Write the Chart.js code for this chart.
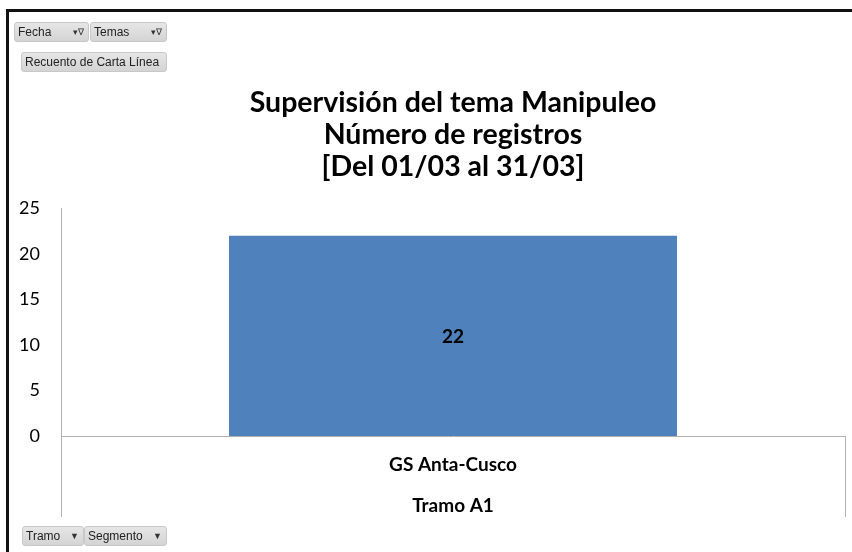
<!DOCTYPE html>
<html>
<head>
<meta charset="utf-8">
<script src="https://cdn.jsdelivr.net/npm/chart.js@4.4.1/dist/chart.umd.min.js"></script>
<style>
  body { margin: 0; background: #fff; }
  #wrap { position: relative; width: 852px; height: 552px; overflow: hidden; }
  #frame { position: absolute; left: 6px; top: 9px; width: 900px; height: 600px;
    border-left: 3px solid #111; border-top: 3px solid #111; }
  canvas { position: absolute; left: 0; top: 0; }
  .btn { position: absolute; height: 20px; line-height: 19px; box-sizing: border-box;
    border: 1px solid #c8c8c8; border-radius: 3px; background: linear-gradient(#e6e6e6, #d4d4d4);
    font-family: 'Liberation Sans', sans-serif; font-size: 12px; color: #222; padding-left: 3px; }
  .btn .ico { position: absolute; right: 4px; top: 0; font-size: 9px; color: #333; }
</style>
</head>
<body>
<div id="wrap">
  <canvas id="chart" width="852" height="552"></canvas>
  <div id="frame"></div>
  <div class="btn" style="left:14px;top:22px;width:75px;">Fecha<span class="ico">&#9662;&#8711;</span></div>
  <div class="btn" style="left:90px;top:22px;width:77px;">Temas<span class="ico">&#9662;&#8711;</span></div>
  <div class="btn" style="left:21px;top:52px;width:146px;">Recuento de Carta Línea</div>
  <div class="btn" style="left:22px;top:526px;width:62px;">Tramo<span class="ico">&#9660;</span></div>
  <div class="btn" style="left:84px;top:526px;width:83px;">Segmento<span class="ico">&#9660;</span></div>
</div>
<script>
'use strict';

let categories = [['GS Anta-Cusco', 'Tramo A1']];
let recordCounts = [22];
let yTicks = [0, 5, 10, 15, 20, 25];
let titleLines = ['Supervisión del tema Manipuleo', 'Número de registros', '[Del 01/03 al 31/03]'];

// value label in the middle of each bar
let barLabels = {
  id: 'barLabels',
  afterDatasetsDraw(chart) {
    let ctx = chart.ctx;
    let meta = chart.getDatasetMeta(0);
    ctx.save();
    ctx.font = 'bold 19px Lato, sans-serif';
    ctx.fillStyle = '#000';
    ctx.textAlign = 'center';
    ctx.textBaseline = 'middle';
    meta.data.forEach(function (bar, i) {
      ctx.fillText(recordCounts[i], bar.x, (bar.y + bar.base) / 2 + 1);
    });
    ctx.restore();
  }
};

let ctx = document.getElementById('chart').getContext('2d');
let chart = new Chart(ctx, {
  type: 'bar',
  data: {
    labels: categories,
    datasets: [{
      data: recordCounts,
      backgroundColor: '#4F81BD',
      borderWidth: 0,
      barPercentage: 1,
      categoryPercentage: 0.5714
    }]
  },
  options: {
    responsive: false,
    animation: false,
    layout: { padding: { left: 0, right: 7, top: 0, bottom: 0 } },
    plugins: {
      legend: { display: false },
      tooltip: { enabled: false },
      title: {
        display: true,
        fullSize: false,
        text: titleLines,
        color: '#000',
        font: { family: 'Lato, sans-serif', size: 28.5, weight: 'bold', lineHeight: 32 / 28.5 },
        padding: { top: 87, bottom: 25.5 }
      }
    },
    scales: {
      x: {
        offset: true,
        grid: { offset: true, drawOnChartArea: false, drawTicks: true, tickLength: 81, color: '#b0b0b0' },
        border: { color: '#b0b0b0' },
        ticks: {
          color: '#000',
          padding: -72.5,
          font: { family: 'Lato, sans-serif', size: 19, weight: 'bold', lineHeight: 41 / 19 }
        },
        afterFit(scale) { scale.height = 116; }
      },
      y: {
        min: 0,
        max: 25,
        afterBuildTicks(scale) { scale.ticks = yTicks.map(function (v) { return { value: v }; }); },
        grid: { display: false, drawTicks: false },
        border: { color: '#b0b0b0' },
        ticks: {
          color: '#000',
          padding: 21,
          font: { family: 'Lato, sans-serif', size: 18 }
        },
        afterFit(scale) { scale.width = 61; }
      }
    }
  },
  plugins: [barLabels]
});
</script>
</body>
</html>
